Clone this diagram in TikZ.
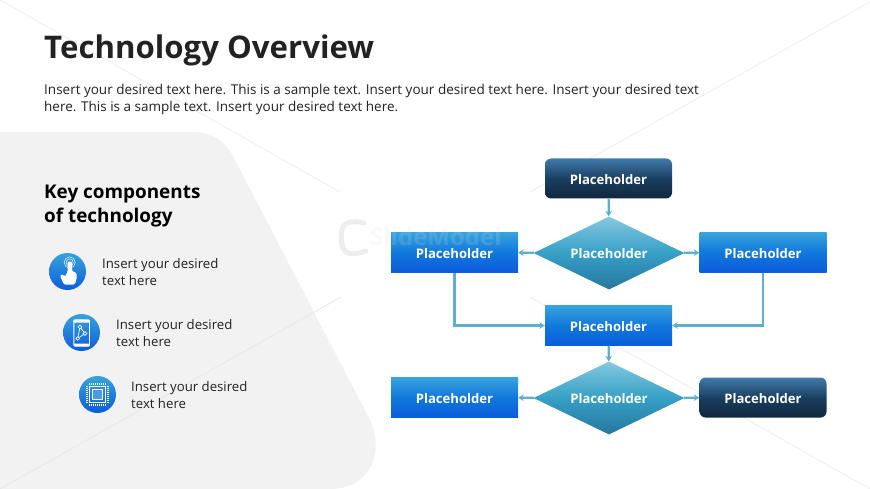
\documentclass[tikz,border=0pt]{standalone}
\usepackage{fontspec}
\setmainfont{Open Sans}
\usetikzlibrary{arrows.meta,shapes.geometric,calc}
\definecolor{ink}{HTML}{222222}
\definecolor{panel}{HTML}{F2F2F2}
\definecolor{conn}{HTML}{5DAED0}
\definecolor{faint}{HTML}{EEEEEE}
\definecolor{wmark}{HTML}{DDDDDD}
\tikzset{
  x=1pt,y=-1pt,
  boxtext/.style={text=white,font=\fontsize{13.1}{14}\selectfont\bfseries,inner sep=0pt,text height=11.6pt,text depth=0pt},
  bluebox/.style={boxtext,rectangle,minimum width=127pt,minimum height=40pt,top color=blue1,bottom color=blue2,middle color=blue3},
  darkbox/.style={boxtext,rectangle,rounded corners=6pt,minimum width=127pt,minimum height=40pt,top color=dark1,bottom color=dark2,middle color=dark3},
  deci/.style={boxtext,diamond,aspect=2.08,minimum width=151pt,minimum height=73pt,top color=dia1,bottom color=dia2,middle color=dia3},
  link/.style={conn,line width=2.2pt,-{Stealth[length=5.5pt,width=6.5pt]}},
  icon/.style={circle,minimum size=37pt,inner sep=0pt,top color=blue1,bottom color=blue2},
  itemtext/.style={anchor=north west,align=left,inner sep=0pt,text=ink,font=\fontsize{13.2}{17}\selectfont},
  bgline/.style={faint,line width=.8pt},
}
\definecolor{blue1}{HTML}{37A3DC}
\definecolor{blue3}{HTML}{1178DC}
\definecolor{blue2}{HTML}{0B5CDC}
\definecolor{dark1}{HTML}{3F7BAB}
\definecolor{dark3}{HTML}{1B3F60}
\definecolor{dark2}{HTML}{10263F}
\definecolor{dia1}{HTML}{85C8E0}
\definecolor{dia3}{HTML}{36A0C6}
\definecolor{dia2}{HTML}{26779F}
\begin{document}
\begin{tikzpicture}
\useasboundingbox (0,0) rectangle (870,489);
\fill[white] (0,0) rectangle (870,489);
% faint background lines
\draw[bgline] (0,0) -- (340,192);
\draw[bgline] (870,2) -- (530,192);
\draw[bgline] (530,297) -- (870,489);
% panel
\fill[panel] (0,132) -- (190,132) .. controls (215,132) and (226,142) .. (236,162)
  -- (370,420) .. controls (385,452) and (370,489) .. (330,489) -- (0,489) -- cycle;
\draw[bgline,draw=black!9] (341,297) -- (0,489);
% title
\node[anchor=west,inner sep=0pt,text=ink,font=\fontsize{31.2}{36}\selectfont\bfseries] (title) at (44,50) {Technology Overview};
\node[anchor=north west,inner sep=0pt,text=ink,align=left,font=\fontsize{13.5}{17}\selectfont] (body) at (44,84)
 {Insert your desired text here. This is a sample text. Insert your desired text here. Insert your desired text\\here. This is a sample text. Insert your desired text here.};
\node[anchor=north west,inner sep=0pt,align=left,text=black,font=\fontsize{18.9}{24}\selectfont\bfseries] (head) at (44,185) {Key components\\of technology};
% icons
\node[icon] (i1) at (67.5,271.5) {};
\node[icon] (i2) at (81.5,332.5) {};
\node[icon] (i3) at (97.5,394.5) {};
\node[itemtext] (t1) at (102,258) {Insert your desired\\text here};
\node[itemtext] (t2) at (116,319) {Insert your desired\\text here};
\node[itemtext] (t3) at (131,381) {Insert your desired\\text here};
% hand glyph
\fill[white,rounded corners=1.2pt] (67.5,261.5) -- (72,261.5) -- (72,271) -- (76.5,273) -- (76.5,280) -- (74.5,284.5) -- (64,284.5) -- (60,276) -- (61.5,274) -- (65,276.5) -- (67.5,272) -- cycle;
\draw[white,line width=.45pt] (69.7,262.5) circle (3.6pt) (69.7,262.5) circle (5.6pt);
% phone glyph
\draw[white,line width=.9pt,rounded corners=1.2pt] (73.8,319.8) rectangle (89.5,346.2);
\fill[white] (73.8,319.8) rectangle (89.5,322.5) (73.8,343.5) rectangle (89.5,346.2);
\draw[white,line width=.7pt] (80,327) -- (85,333.5) -- (77.7,338.5) -- cycle;
\draw[white,line width=.7pt,fill=blue3] (80,327) circle (1.8pt) (85,333.5) circle (1.8pt) (77.7,338.5) circle (1.8pt);
% chip glyph
\draw[white,line width=1.5pt,fill=white!25!blue3] (92.5,389.5) rectangle (102.5,399.5);
\draw[white,line width=.7pt] (89.5,386.5) rectangle (105.5,402.5);
\draw[white,line width=1.6pt,dash pattern=on 1pt off 1pt] (89,384) -- (106,384) (89,405) -- (106,405) (87,386) -- (87,403) (108,386) -- (108,403);
% flow nodes
\node[darkbox] (top) at (608.5,178.5) {Placeholder};
\node[deci] (d1) at (609,253) {Placeholder};
\node[bluebox] (l1) at (454.5,252.5) {Placeholder};
\node[bluebox] (r1) at (763,252.5) {Placeholder};
\node[bluebox] (mid) at (608.5,325.5) {Placeholder};
\node[deci] (d2) at (609,398) {Placeholder};
\node[bluebox] (l2) at (454.5,397.5) {Placeholder};
\node[darkbox] (r2) at (763,397.5) {Placeholder};
% connectors
\draw[link] (top) -- (d1);
\draw[link] (d1) -- (l1);
\draw[link] (d1) -- (r1);
\draw[link] (l1.south) |- (mid.west);
\draw[link] (r1.south) |- (mid.east);
\draw[link] (mid) -- (d2);
\draw[link] (d2) -- (l2);
\draw[link] (d2) -- (r2);
% watermark, faint over the picture
\draw[wmark,opacity=.5,line width=5pt,line cap=round] (364,223) .. controls (352,220) and (343,222) .. (342,230) .. controls (340,240) and (342,248) .. (346,252) .. controls (350,255) and (358,254) .. (366,251);
\node[anchor=west,inner sep=0pt,text=wmark,opacity=.16,font=\fontsize{24}{24}\selectfont\bfseries] (wm) at (370,237) {SlideModel};
\end{tikzpicture}
\end{document}
